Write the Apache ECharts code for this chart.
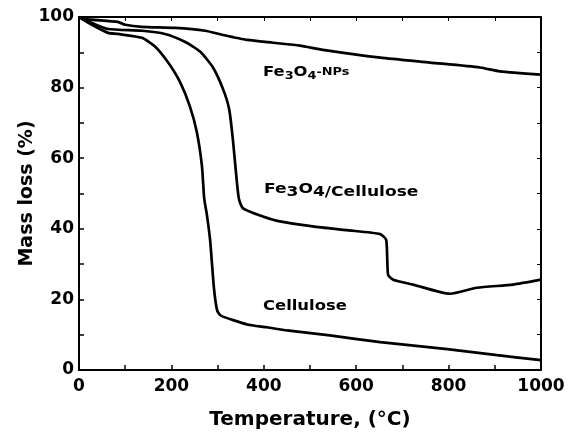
<!DOCTYPE html>
<html>
<head>
<meta charset="utf-8">
<script src="https://cdn.jsdelivr.net/npm/echarts@6/dist/echarts.min.js"></script>
<style>
  html, body { margin: 0; padding: 0; background: #fff; }
  #chart { width: 571px; height: 435px; }
</style>
</head>
<body>
<div id="chart"></div>
<script>
// TGA curves: [temperature (°C), mass (%)]
const cellulose = [
  [0, 100], [28, 97.8], [63, 95.5], [84, 95.2], [136, 94.1], [165, 91.6],
  [193, 87.1], [219, 81.5], [240, 74.7], [255, 67.4], [266, 57.9], [271, 48.6],
  [277, 43.8], [284, 36.5], [292, 23.3], [299, 16.9], [307, 15.4], [364, 12.9],
  [407, 12.1], [450, 11.2], [543, 9.8], [652, 7.9], [797, 5.9], [905, 4.2], [1000, 2.8]
]
const fe3o4Cellulose = [
  [0, 100], [28, 98.3], [63, 96.6], [136, 96.1], [186, 95.2], [229, 93.0],
  [262, 90.2], [290, 85.7], [312, 79.5], [325, 73.9], [333, 65.4], [340, 55.6],
  [346, 48.6], [355, 45.8], [398, 43.5], [435, 42.1], [506, 40.7], [580, 39.6],
  [652, 38.5], [665, 36.8], [669, 27.0], [680, 25.6], [723, 24.2], [803, 21.6],
  [861, 23.3], [939, 24.2], [1000, 25.6]
]
const fe3o4NPs = [
  [0, 100], [13, 99.4], [84, 98.6], [100, 97.8], [136, 97.2], [208, 96.9],
  [273, 96.1], [312, 94.9], [364, 93.5], [420, 92.7], [478, 91.9], [528, 90.7],
  [652, 88.5], [760, 87.1], [868, 85.7], [911, 84.6], [1000, 83.7]
]

const tickFont = { fontFamily: "DejaVu Sans", fontWeight: "bold", fontSize: 17, color: "#000" }
const lbl = "DejaVu Sans"

function curve(data) {
  return {
    type: "line",
    data,
    symbol: "none",
    smooth: 0.2,
    lineStyle: { color: "#000", width: 2.7 },
    silent: true,
  }
}

// rich-text token helper
function tok(size, lh, va) {
  return { fontFamily: lbl, fontWeight: "bold", fontSize: size, lineHeight: lh, verticalAlign: va, fill: "#000" }
}

const chart = echarts.init(document.getElementById("chart"))

chart.setOption({
  animation: false,
  grid: { left: 79, right: 30, top: 17, bottom: 62 },
  xAxis: [
    {
      type: "value", min: 0, max: 1000, interval: 100,
      name: "Temperature, (°C)", nameLocation: "middle", nameGap: 40, nameMoveOverlap: false,
      nameTextStyle: { fontFamily: "DejaVu Sans", fontWeight: "bold", fontSize: 20, color: "#000" },
      axisLine: { show: true, onZero: false, lineStyle: { color: "#000", width: 2 } },
      axisTick: { inside: true, length: 5, lineStyle: { color: "#000", width: 1.5 } },
      axisLabel: { ...tickFont, margin: 8, formatter: v => (v % 200 === 0 ? v : "") },
      splitLine: { show: false },
    },
    {
      type: "value", min: 0, max: 1000, interval: 100, position: "top",
      axisLine: { show: true, onZero: false, lineStyle: { color: "#000", width: 2 } },
      axisTick: { inside: true, length: 4, lineStyle: { color: "#000", width: 1 } },
      axisLabel: { show: false },
      splitLine: { show: false },
    },
  ],
  yAxis: [
    {
      type: "value", min: 0, max: 100, interval: 10,
      name: "Mass loss (%)", nameLocation: "middle", nameGap: 42, nameMoveOverlap: false,
      nameTextStyle: { fontFamily: "DejaVu Sans", fontWeight: "bold", fontSize: 19, color: "#000" },
      axisLine: { show: true, onZero: false, lineStyle: { color: "#000", width: 2 } },
      axisTick: { inside: true, length: 5, lineStyle: { color: "#000", width: 1.5 } },
      axisLabel: { ...tickFont, margin: 5, formatter: v => (v % 20 === 0 ? v : "") },
      splitLine: { show: false },
    },
    {
      type: "value", min: 0, max: 100, interval: 10, position: "right",
      axisLine: { show: true, onZero: false, lineStyle: { color: "#000", width: 2 } },
      axisTick: { inside: true, length: 4, lineStyle: { color: "#000", width: 1 } },
      axisLabel: { show: false },
      splitLine: { show: false },
    },
  ],
  series: [curve(fe3o4NPs), curve(fe3o4Cellulose), curve(cellulose)],
  graphic: [
    {
      type: "text", x: 263, y: 62, scaleX: 1.17,
      style: {
        text: "{n|Fe}{s|3}{n|O}{s|4}{t|-NPs}",
        rich: { n: tok(14, 20, "middle"), s: tok(11, 10, "bottom"), t: tok(11, 20, "middle") },
      },
    },
    {
      type: "text", x: 264, y: 182, scaleX: 1.22,
      style: {
        text: "{n|Fe}{c|3}{n|O}{c|4/Cellulose}",
        rich: { n: tok(14, 12, "top"), c: tok(14, 20, "middle") },
      },
    },
    {
      type: "text", x: 263, y: 296, scaleX: 1.17,
      style: {
        text: "{c|Cellulose}",
        rich: { c: tok(14, 20, "middle") },
      },
    },
  ],
})
</script>
</body>
</html>
